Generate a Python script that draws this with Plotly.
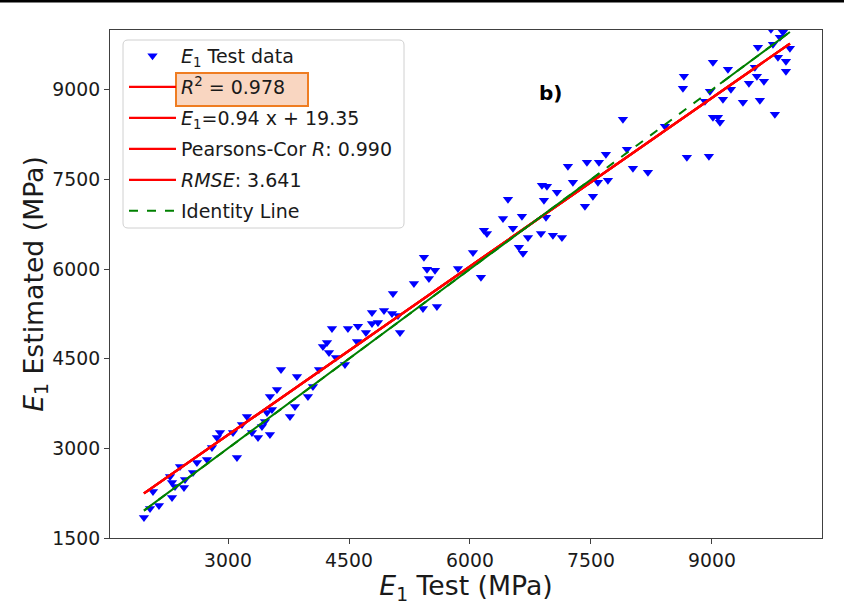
import plotly.graph_objects as go

# ---- data ----
e1_test = [1958, 2033, 2144, 2070, 2306, 2281, 2306, 2343, 2405, 2454, 2467, 2566, 2615, 2739, 2801,
           2863, 2901, 3111, 3062, 3173, 3235, 3297, 3372, 3421, 3458, 3483, 3520, 3545, 3520, 3607,
           3768, 3830, 3855, 3657, 3991, 4053, 4128, 4177, 4227, 4252, 4338, 4289, 4450, 4487, 4611,
           4599, 4710, 4785, 4785, 4859, 4934, 5033, 5107, 5132, 5045, 5305, 5417, 5429, 5467, 5491,
           5566, 5590, 5851, 6037, 6136, 6173, 6210, 6409, 6471, 6533, 6607, 6657, 6644, 6719, 6880,
           6917, 6892, 6954, 6942, 7028, 7140, 7078, 7276, 7425, 7524, 7214, 7450, 7586, 7599, 7685,
           7710, 7946, 8020, 7896, 8206, 8417, 8640, 8652, 8689, 8962, 8913, 8975, 9012, 9012, 9074,
           9099, 9136, 9198, 9235, 9384, 9458, 9532, 9557, 9570, 9644, 9594, 9756, 9780, 9818, 9842,
           9880, 9917, 9917, 9966, 9731]
e1_est = [1843, 1994, 2044, 2278, 2178, 2530, 2429, 2362, 2697, 2345, 2479, 2596, 2764, 2814, 3015,
          3182, 3266, 2848, 3266, 3400, 3534, 3266, 3182, 3367, 3450, 3601, 3233, 3651, 3869, 3986,
          3534, 3701, 4204, 4321, 3869, 4036, 4321, 4706, 4773, 4605, 4522, 5007, 4404, 5007, 5041,
          4789, 4940, 5275, 5091, 5107, 5308, 5258, 5225, 4940, 5593, 5760, 5342, 6196, 5995, 5844,
          5978, 5375, 6011, 6279, 5861, 6648, 6597, 6848, 7167, 6681, 6363, 6263, 6882, 6530, 6597,
          7150, 7401, 7384, 6865, 6564, 6530, 7284, 7451, 7049, 7217, 7719, 7786, 7451, 7786, 7920,
          7485, 8004, 7685, 8506, 7618, 8389, 9025, 9225, 7870, 7886, 8807, 8974, 9460, 8539, 8539,
          8456, 8841, 9343, 9008, 8790, 9108, 9376, 9225, 9711, 9142, 8824, 9761, 8589, 9544, 9878,
          9962, 9477, 9309, 9694, 10012]

fit_slope = 0.94
fit_intercept = 405.0
identity_solid_breaks = [7600, 9100]   # identity line drawn solid outside this span

legend_labels = [
    "<i>E</i><sub>1</sub> Test data",
    "<i>R</i><sup>2</sup> = 0.978",
    "<i>E</i><sub>1</sub>=0.94 x + 19.35",
    "Pearsons-Cor <i>R</i>: 0.990",
    "<i>RMSE</i>: 3.641",
    "Identity Line",
]
x_ticks = [3000, 4500, 6000, 7500, 9000]
y_ticks = [1500, 3000, 4500, 6000, 7500, 9000]
x_range = [1537, 10364]
y_range = [1500, 10000]

# ---- derived lines ----
xmin, xmax = min(e1_test), max(e1_test)
fit_x = [xmin, xmax]
fit_y = [fit_slope * v + fit_intercept for v in fit_x]
id_x = [xmin, xmax]
id_solid_x = [xmin, identity_solid_breaks[0], None, identity_solid_breaks[1], xmax]

FONT = "DejaVu Sans"
TXT = "#1a1a1a"
fig = go.Figure()

fig.add_trace(go.Scatter(x=e1_test, y=e1_est, mode="markers", name=legend_labels[0],
                         legendgroup="g0",
                         marker=dict(symbol="triangle-down", size=9, color="#0000ff",
                                     line=dict(width=0))))
fig.add_trace(go.Scatter(x=fit_x, y=fit_y, mode="lines", name=legend_labels[1], legendgroup="g1",
                         line=dict(color="#ff0000", width=2.2)))
for i in (2, 3, 4):
    fig.add_trace(go.Scatter(x=fit_x, y=fit_y, mode="lines", name=legend_labels[i],
                             legendgroup=f"g{i}", line=dict(color="#ff0000", width=2.2)))
fig.add_trace(go.Scatter(x=id_x, y=id_x, mode="lines", name=legend_labels[5], legendgroup="g5",
                         line=dict(color="#008000", width=2, dash="dash")))
fig.add_trace(go.Scatter(x=id_solid_x, y=id_solid_x, mode="lines", showlegend=False,
                         line=dict(color="#008000", width=2), connectgaps=False))

# ---- layout ----
W, H = 844, 605
L, R, T, B = 110, 22, 30, 67
pw, ph = W - L - R, H - T - B

def px(xp):
    return (xp - L) / pw

def py(yp):
    return (H - B - yp) / ph

# rounded legend frame
x0, x1, y0, y1 = px(123), px(404), py(228), py(40)
rx, ry = 5 / pw, 5 / ph
frame_path = (f"M{x0+rx},{y1} L{x1-rx},{y1} Q{x1},{y1} {x1},{y1-ry} "
              f"L{x1},{y0+ry} Q{x1},{y0} {x1-rx},{y0} L{x0+rx},{y0} Q{x0},{y0} {x0},{y0+ry} "
              f"L{x0},{y1-ry} Q{x0},{y1} {x0+rx},{y1} Z")

shapes = [
    dict(type="path", xref="paper", yref="paper", path=frame_path, layer="below",
         line=dict(color="#d0d0d0", width=1), fillcolor="white"),
    dict(type="rect", xref="paper", yref="paper", x0=px(176), x1=px(308), y0=py(106), y1=py(73),
         layer="below", line=dict(color="#ef7d22", width=2), fillcolor="#f9d6c1"),
    dict(type="line", xref="paper", yref="paper", x0=px(0), x1=px(W), y0=py(1), y1=py(1),
         line=dict(color="black", width=3)),
]

fig.update_layout(
    width=W, height=H,
    margin=dict(l=L, r=R, t=T, b=B, autoexpand=False),
    paper_bgcolor="white", plot_bgcolor="white",
    font=dict(family=FONT, size=19, color=TXT),
    showlegend=True,
    legend=dict(x=px(124), y=py(37), xanchor="left", yanchor="top",
                bgcolor="rgba(0,0,0,0)", borderwidth=0, tracegroupgap=3.3,
                font=dict(family=FONT, size=19, color=TXT), itemwidth=47),
    shapes=shapes,
    annotations=[dict(text="<b>b)</b>", xref="paper", yref="paper", x=px(550), y=py(93),
                      xanchor="center", yanchor="middle", showarrow=False,
                      font=dict(family=FONT, size=20, color="black"))],
)
axis_common = dict(showgrid=False, zeroline=False, showline=True, linecolor="#404040",
                   linewidth=1.2, mirror=True, ticks="outside", ticklen=5, tickcolor="#404040",
                   automargin=False,
                   tickfont=dict(family=FONT, size=18.8, color=TXT))
fig.update_xaxes(range=x_range, tickvals=x_ticks, ticktext=[str(v) for v in x_ticks],
                 title=dict(text="<i>E</i><sub>1</sub> Test (MPa)", standoff=5,
                            font=dict(family=FONT, size=26.7, color=TXT)),
                 **axis_common)
fig.update_yaxes(range=y_range, tickvals=y_ticks, ticktext=[str(v) for v in y_ticks],
                 title=dict(text="<i>E</i><sub>1</sub> Estimated (MPa)", standoff=0,
                            font=dict(family=FONT, size=26.7, color=TXT)),
                 **axis_common)

fig.write_html("out.html", config={"displayModeBar": False},
               post_script="document.body.style.margin='0px';")
